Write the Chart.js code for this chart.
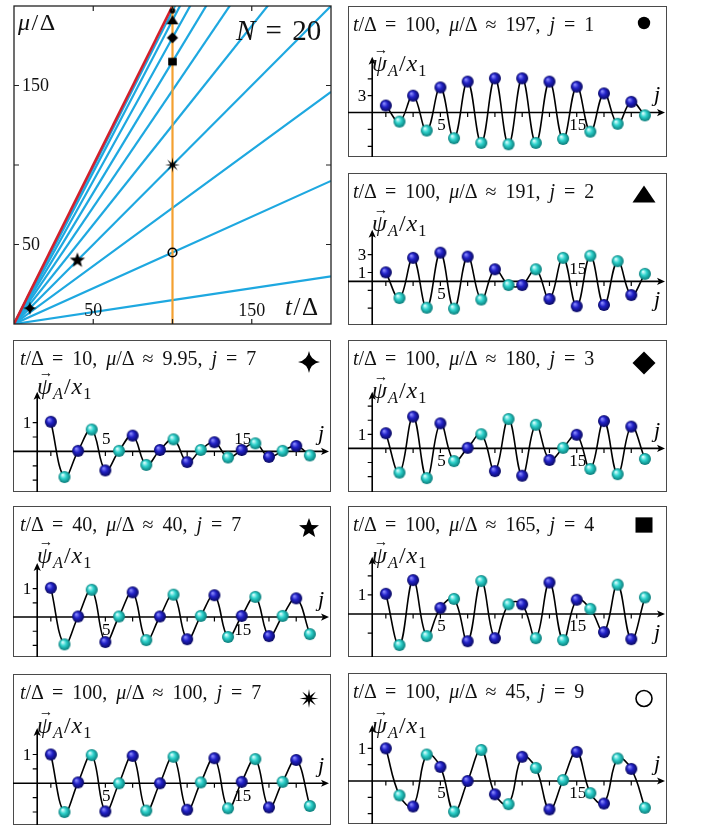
<!DOCTYPE html>
<html>
<head>
<meta charset="utf-8">
<script src="https://cdn.jsdelivr.net/npm/chart.js@4.4.1/dist/chart.umd.min.js"></script>
<style>
  html, body { margin: 0; padding: 0; background: #fff; }
  #page { position: relative; width: 705px; height: 827px; overflow: hidden;
          font-family: "Liberation Serif", "DejaVu Serif", serif; color: #111; }
  .holder { position: absolute; }
  .holder canvas { display: block; }
  .txt { position: absolute; white-space: nowrap; line-height: 1; }
  .title { font-size: 20px; word-spacing: 4px; }
  .psi { font-size: 24px; letter-spacing: 1px; }
  .vec { position: relative; display: inline-block; }
  .vec .arr { position: absolute; left: 0.12em; top: -0.6em; font-size: 0.6em; font-style: normal; }
  sub { font-size: 0.68em; vertical-align: -0.32em; line-height: 0; }
</style>
</head>
<body>
<div id="page"></div>
<script>
// ---------- data ----------
const sites = [1, 2, 3, 4, 5, 6, 7, 8, 9, 10, 11, 12, 13, 14, 15, 16, 17, 18, 19, 20];

// spectrum fan: mu/Delta of each band at t/Delta = 100 (bands are rays from the origin)
const bandMuAtT100 = [197, 191, 180, 165, 147, 125, 100, 73, 45, 15];
const edgeT = [0, 100];
const edgeMu = [0, 200];
const cutT = [100, 100];
const cutMu = [0, 200];

// highlighted states in the fan
const markT = [100, 100, 100, 100, 100, 100, 40, 10];
const markMu = [197, 191, 180, 165, 100, 45, 40, 9.95];
const markKind = ['dot', 'triangle', 'diamond', 'square', 'star8', 'ring', 'star5', 'sparkle'];

// wavefunction components psi_A / x_1 on sites j = 1..20
const psiT100J1 = [1.24, -1.61, 3.0, -3.2, 4.47, -4.57, 5.5, -5.4, 6.08, -5.65, 6.08, -5.4, 5.5, -4.7, 4.6, -3.4, 3.4, -2.0, 1.9, -0.5];
const psiT100J2 = [1.02, -1.87, 2.65, -2.96, 3.23, -3.06, 2.79, -2.04, 1.36, -0.41, -0.41, 1.36, -1.97, 2.65, -2.79, 2.89, -2.65, 2.28, -1.53, 0.85];
const psiT10J7  = [1.03, -0.89, 0.02, 0.76, -0.66, 0.02, 0.55, -0.47, 0.05, 0.42, -0.37, 0.05, 0.32, -0.21, 0.05, 0.28, -0.19, 0.02, 0.19, -0.14];
const psiT100J3 = [1.08, -1.72, 2.26, -2.11, 1.78, -0.90, 0.04, 1.01, -1.61, 2.09, -1.94, 1.68, -0.82, 0.04, 0.97, -1.46, 1.94, -1.83, 1.55, -0.75];
const psiT40J7  = [1.03, -0.96, 0.02, 0.96, -0.88, 0.02, 0.87, -0.81, 0.02, 0.79, -0.78, 0.04, 0.77, -0.70, 0.04, 0.71, -0.67, 0.04, 0.66, -0.60];
const psiT100J4 = [1.06, -1.63, 1.78, -1.16, 0.32, 0.79, -1.43, 1.73, -1.27, 0.51, 0.51, -1.27, 1.65, -1.37, 0.75, 0.27, -0.95, 1.54, -1.32, 0.87];
const psiT100J7 = [1.0, -1.0, 0.03, 0.98, -0.98, 0.0, 0.95, -0.95, 0.0, 0.92, -0.92, 0.03, 0.87, -0.87, 0.05, 0.84, -0.84, 0.05, 0.81, -0.79];
const psiT100J9 = [1.0, -0.44, -0.78, 0.81, 0.43, -0.94, 0.0, 0.95, -0.41, -0.71, 0.74, 0.40, -0.87, 0.03, 0.89, -0.37, -0.69, 0.69, 0.37, -0.82];

const xTickSites = [1, 3, 5, 7, 9, 11, 13, 15, 17, 19];
const xTickLabels = [5, 15];

// ---------- panel layout ----------
const panels = [
  { vals: psiT100J1, t: '100', mu: '197', j: '1', mark: 'dot', ms: 6.2, my: 17,
    box: [348, 6, 319, 151], zero: 115.7, unit: 6.2, tip: 56.7, yTicks: [-6, -3, 3, 6], yLabels: [3],
    five: 'below', fifteen: 'below', jPos: 'above', psiBase: 71 },
  { vals: psiT100J2, t: '100', mu: '191', j: '2', mark: 'triangle', ms: 11.5, my: 22,
    box: [348, 173, 319, 152], zero: 284.7, unit: 9.8, tip: 229.7, yTicks: [-3, -1, 1, 3], yLabels: [3, 1],
    five: 'below', fifteen: 'above', jPos: 'below', psiBase: 231 },
  { vals: psiT10J7, t: '10', mu: '9.95', j: '7', mark: 'sparkle', ms: 11, my: 22,
    box: [13, 340, 318, 152], zero: 455, unit: 31.7, tip: 391.7, yTicks: [-1, -0.5, 0.5, 1], yLabels: [1],
    five: 'above', fifteen: 'above', jPos: 'above', psiBase: 394 },
  { vals: psiT100J3, t: '100', mu: '180', j: '3', mark: 'diamond', ms: 11.5, my: 23,
    box: [348, 340, 319, 152], zero: 451.7, unit: 15.5, tip: 391.7, yTicks: [-2, -1, 1, 2, 3], yLabels: [1],
    five: 'below', fifteen: 'below', jPos: 'above', psiBase: 398 },
  { vals: psiT40J7, t: '40', mu: '40', j: '7', mark: 'star5', ms: 10.5, my: 22.5,
    box: [13, 506, 318, 151], zero: 620.7, unit: 31.3, tip: 563, yTicks: [-1, -0.5, 0.5, 1], yLabels: [1],
    five: 'below', fifteen: 'below', jPos: 'above', psiBase: 563 },
  { vals: psiT100J4, t: '100', mu: '165', j: '4', mark: 'square', ms: 8.5, my: 19,
    box: [348, 506, 319, 151], zero: 617.3, unit: 21, tip: 556.7, yTicks: [-1, 1, 2], yLabels: [1],
    five: 'below', fifteen: 'below', jPos: 'below', psiBase: 563 },
  { vals: psiT100J7, t: '100', mu: '100', j: '7', mark: 'star8', ms: 9.5, my: 24.5,
    box: [13, 674, 318, 151], zero: 786.7, unit: 31.7, tip: 728, yTicks: [-1, -0.5, 0.5, 1], yLabels: [1],
    five: 'below', fifteen: 'below', jPos: 'above', psiBase: 733 },
  { vals: psiT100J9, t: '100', mu: '45', j: '9', mark: 'ring', ms: 8, my: 25.5,
    box: [348, 673, 319, 151], zero: 784.3, unit: 36, tip: 725, yTicks: [-1, -0.5, 0.5, 1], yLabels: [1],
    five: 'below', fifteen: 'below', jPos: 'above', psiBase: 733 }
];

const SITE_STEP = 14.26;   // px between neighbouring sites
const AXIS_INSET = 18;     // px from panel edge to the j = 0 axis
const SERIF = '"Liberation Serif", "DejaVu Serif", serif';

// ---------- drawing helpers ----------
function markerPath(g, kind, cx, cy, s) {
  g.beginPath();
  if (kind === 'dot' || kind === 'ring') {
    g.arc(cx, cy, s, 0, Math.PI * 2);
  } else if (kind === 'triangle') {
    g.moveTo(cx, cy - 0.83 * s); g.lineTo(cx + s, cy + 0.65 * s); g.lineTo(cx - s, cy + 0.65 * s); g.closePath();
  } else if (kind === 'diamond') {
    g.moveTo(cx, cy - s); g.lineTo(cx + s, cy); g.lineTo(cx, cy + s); g.lineTo(cx - s, cy); g.closePath();
  } else if (kind === 'square') {
    g.rect(cx - s, cy - s * 0.9, 2 * s, 1.8 * s);
  } else if (kind === 'sparkle') {
    const k = 0.14 * s;
    g.moveTo(cx, cy - s);
    g.quadraticCurveTo(cx + k, cy - k, cx + s, cy);
    g.quadraticCurveTo(cx + k, cy + k, cx, cy + s);
    g.quadraticCurveTo(cx - k, cy + k, cx - s, cy);
    g.quadraticCurveTo(cx - k, cy - k, cx, cy - s);
    g.closePath();
  } else {
    const n = kind === 'star5' ? 5 : 8;
    const inner = kind === 'star5' ? 0.42 : 0.3;
    for (let i = 0; i < 2 * n; i++) {
      const r = i % 2 === 0 ? s : s * inner;
      const a = -Math.PI / 2 + i * Math.PI / n;
      const px = cx + r * Math.cos(a), py = cy + r * Math.sin(a);
      if (i === 0) g.moveTo(px, py); else g.lineTo(px, py);
    }
    g.closePath();
  }
}
function drawMarker(g, kind, cx, cy, s) {
  markerPath(g, kind, cx, cy, s);
  if (kind === 'ring') { g.lineWidth = 1.6; g.strokeStyle = '#000'; g.stroke(); }
  else { g.fillStyle = '#000'; g.fill(); }
}
function markerImage(kind, s) {
  const c = document.createElement('canvas');
  const n = Math.ceil(2 * s + 4);
  c.width = c.height = n;
  drawMarker(c.getContext('2d'), kind, n / 2, n / 2, s);
  return c;
}
function ballImage(light, mid, dark) {
  const r = 6, c = document.createElement('canvas');
  c.width = c.height = 2 * r + 2;
  const g = c.getContext('2d');
  const cx = r + 1, cy = r + 1;
  const grad = g.createRadialGradient(cx - 2, cy - 2.3, 0.4, cx, cy, r);
  grad.addColorStop(0, light); grad.addColorStop(0.45, mid); grad.addColorStop(1, dark);
  g.fillStyle = grad;
  g.beginPath(); g.arc(cx, cy, r, 0, Math.PI * 2); g.fill();
  return c;
}
const blueBall = ballImage('#8c8cff', '#2222c8', '#08085e');
const cyanBall = ballImage('#dcffff', '#2ed2cc', '#087a78');

function arrowHead(g, x, y, dir) {
  g.beginPath();
  if (dir === 'right') { g.moveTo(x, y); g.lineTo(x - 8, y - 3.6); g.lineTo(x - 6, y); g.lineTo(x - 8, y + 3.6); }
  else { g.moveTo(x, y); g.lineTo(x - 3.6, y + 8); g.lineTo(x, y + 6); g.lineTo(x + 3.6, y + 8); }
  g.closePath(); g.fill();
}

const page = document.getElementById('page');
function addHolder(x, y, w, h) {
  const d = document.createElement('div');
  d.className = 'holder';
  d.style.left = x + 'px'; d.style.top = y + 'px';
  d.style.width = w + 'px'; d.style.height = h + 'px';
  const c = document.createElement('canvas');
  c.width = w; c.height = h;
  c.style.width = w + 'px'; c.style.height = h + 'px';
  d.appendChild(c);
  page.appendChild(d);
  return c;
}
function addText(html, cls, x, y, size, extra) {
  const d = document.createElement('div');
  d.className = 'txt ' + (cls || '');
  d.innerHTML = html;
  d.style.left = x + 'px'; d.style.top = y + 'px';
  if (size) d.style.fontSize = size + 'px';
  if (extra) Object.assign(d.style, extra);
  page.appendChild(d);
  return d;
}

const baseOpts = {
  responsive: false, animation: false, devicePixelRatio: 1,
  events: [],
  plugins: { legend: { display: false }, tooltip: { enabled: false } }
};

// ---------- fan of bands ----------
(function () {
  const W = 345, H = 330;
  const cv = addHolder(0, 0, W, H);
  const bandSets = bandMuAtT100.map(mu => ({
    data: [{ x: 0, y: 0 }, { x: 100, y: mu }, { x: 200, y: 2 * mu }],
    borderColor: '#1ea8e0', borderWidth: 2.2, pointRadius: 0, tension: 0, order: 4
  }));
  const edge = {
    data: edgeT.map((t, i) => ({ x: t, y: edgeMu[i] })),
    borderColor: '#d2202c', borderWidth: 2.6, pointRadius: 0, order: 3
  };
  const cut = {
    data: cutT.map((t, i) => ({ x: t, y: cutMu[i] })),
    borderColor: '#f4a030', borderWidth: 2.2, pointRadius: 0, order: 2
  };
  const sizes = { dot: 2.8, triangle: 6, diamond: 5.6, square: 4.3, star8: 7.5, ring: 4.3, star5: 8, sparkle: 6.8 };
  const marks = {
    data: markT.map((t, i) => ({ x: t, y: markMu[i] })),
    showLine: false, pointRadius: 5, order: 1, clip: false,
    pointStyle: markKind.map(k => markerImage(k, sizes[k]))
  };
  const fanFrame = {
    id: 'fanFrame',
    afterDatasetsDraw(chart) {
      const g = chart.ctx, a = chart.chartArea;
      const xs = chart.scales.x, ys = chart.scales.y;
      g.save();
      g.strokeStyle = '#222'; g.lineWidth = 1.3;
      g.strokeRect(a.left, a.top, a.right - a.left, a.bottom - a.top);
      g.lineWidth = 1.2;
      [50, 100, 150].forEach(v => {
        const py = ys.getPixelForValue(v), px = xs.getPixelForValue(v);
        g.beginPath();
        g.moveTo(a.left, py); g.lineTo(a.left + 5, py);
        g.moveTo(a.right, py); g.lineTo(a.right - 5, py);
        g.moveTo(px, a.bottom); g.lineTo(px, a.bottom - 5);
        g.moveTo(px, a.top); g.lineTo(px, a.top + 5);
        g.stroke();
      });
      g.fillStyle = '#111';
      g.font = '18px ' + SERIF;
      g.textBaseline = 'middle';
      g.textAlign = 'left';
      [150, 50].forEach(v => g.fillText(String(v), a.left + 8, ys.getPixelForValue(v) + 1));
      g.textAlign = 'center';
      [50, 150].forEach(v => g.fillText(String(v), xs.getPixelForValue(v), a.bottom - 13));
      g.restore();
    }
  };
  new Chart(cv, {
    type: 'line',
    data: { datasets: [marks, cut, edge, ...bandSets] },
    options: Object.assign({}, baseOpts, {
      layout: { padding: { left: 14, right: 14, top: 5, bottom: 6 } },
      scales: {
        x: { type: 'linear', min: 0, max: 200, display: false },
        y: { type: 'linear', min: 0, max: 200, display: false }
      }
    }),
    plugins: [fanFrame]
  });
  addText('<i>μ</i>/Δ', '', 18, 10, 24, { letterSpacing: '1.5px' });
  addText('<i>N</i> = 20', '', 236, 16, 29, { wordSpacing: '3px' });
  addText('<i>t</i>/Δ', '', 285, 294, 25, { letterSpacing: '1.5px' });
})();

// ---------- site-resolved panels ----------
function panelDecor(p) {
  return {
    id: 'panelDecor',
    beforeDatasetsDraw(chart) {
      const g = chart.ctx;
      const w = chart.width, h = chart.height;
      const xs = chart.scales.x, ys = chart.scales.y;
      const x0 = xs.getPixelForValue(0), y0 = ys.getPixelForValue(0);
      const tipY = p.tip - p.box[1];
      const tipX = w - 2;
      g.save();
      g.strokeStyle = '#4a4a4a'; g.lineWidth = 1;
      g.strokeRect(0.5, 0.5, w - 1, h - 1);
      g.strokeStyle = '#000'; g.fillStyle = '#000';
      g.lineWidth = 1.6;
      g.beginPath();
      g.moveTo(0, y0); g.lineTo(tipX - 5, y0);
      g.moveTo(x0, h); g.lineTo(x0, tipY + 5);
      g.stroke();
      arrowHead(g, tipX, y0, 'right');
      arrowHead(g, x0, tipY, 'up');
      g.lineWidth = 1.2;
      g.beginPath();
      xTickSites.forEach(v => { const px = xs.getPixelForValue(v); g.moveTo(px, y0); g.lineTo(px, y0 + 4.5); });
      p.yTicks.forEach(v => {
        const py = ys.getPixelForValue(v);
        if (py > tipY + 6 && py < h) { g.moveTo(x0 - 4.5, py); g.lineTo(x0, py); }
      });
      g.stroke();
      g.font = '17px ' + SERIF;
      g.textBaseline = 'middle';
      g.textAlign = 'center';
      const place = { 5: p.five, 15: p.fifteen };
      xTickLabels.forEach(v => {
        const py = place[v] === 'above' ? y0 - 12 : y0 + 13;
        g.fillText(String(v), xs.getPixelForValue(v) + 1, py);
      });
      g.textAlign = 'right';
      p.yLabels.forEach(v => g.fillText(String(v), x0 - 6, ys.getPixelForValue(v) + 1));
      g.font = 'italic 22px ' + SERIF;
      g.textAlign = 'center';
      g.fillText('j', w - 10, p.jPos === 'above' ? y0 - 17 : y0 + 19);
      drawMarker(g, p.mark, 296, p.my, p.ms);
      g.restore();
    }
  };
}

panels.forEach(p => {
  const [bx, by, bw, bh] = p.box;
  const cv = addHolder(bx, by, bw, bh);
  const xMin = -AXIS_INSET / SITE_STEP;
  const xMax = (bw - AXIS_INSET) / SITE_STEP;
  const yMax = (p.zero - by) / p.unit;
  const yMin = -(by + bh - p.zero) / p.unit;
  const pts = sites.map((s, i) => ({ x: s, y: p.vals[i] }));
  new Chart(cv, {
    type: 'line',
    data: {
      datasets: [
        { data: pts, showLine: false, pointRadius: 6, clip: false, order: 0,
          pointStyle: ctx => (ctx.dataIndex % 2 === 0 ? blueBall : cyanBall) },
        { data: pts, borderColor: '#000', borderWidth: 1.6, pointRadius: 0, tension: 0.4, clip: false, order: 1 }
      ]
    },
    options: Object.assign({}, baseOpts, {
      layout: { padding: 0 },
      scales: {
        x: { type: 'linear', min: xMin, max: xMax, display: false },
        y: { type: 'linear', min: yMin, max: yMax, display: false }
      }
    }),
    plugins: [panelDecor(p)]
  });
  const left = bx + (bx < 100 ? 7 : 5);
  addText('<i>t</i>/Δ = ' + p.t + ', <i>μ</i>/Δ ≈ ' + p.mu + ', <i>j</i> = ' + p.j, 'title', left, by + 25 - 17);
  addText('<span class="vec"><i>ψ</i><span class="arr">→</span></span><sub><i>A</i></sub>/<i>x</i><sub>1</sub>',
    'psi', bx + AXIS_INSET + 6, p.psiBase - 20);
});
</script>
</body>
</html>
